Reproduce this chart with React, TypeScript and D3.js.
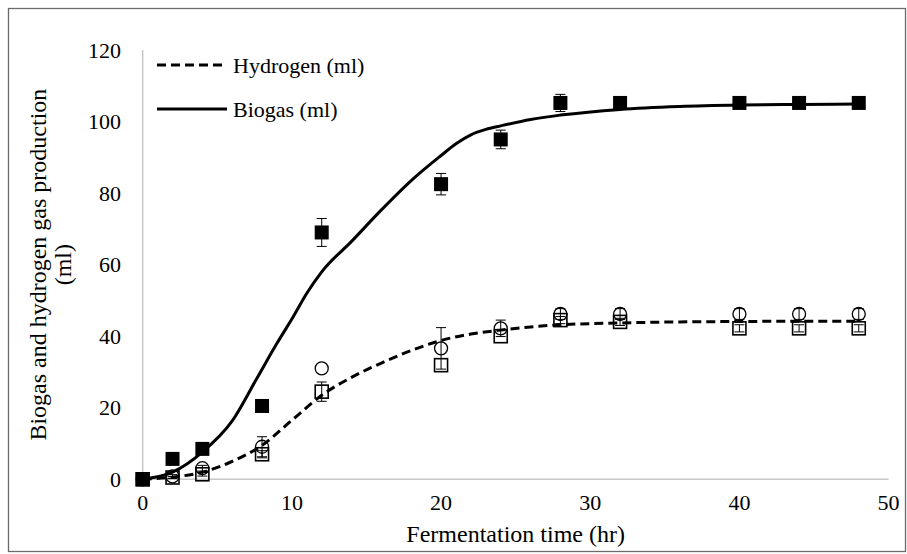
import React from 'react';
import * as d3 from 'd3';

// Observation times (hr)
const timeH = [0, 2, 4, 8, 12, 20, 24, 28, 32, 40, 44, 48];
// Biogas (filled squares)
const biogasObs = [0, 5.7, 8.5, 20.5, 69, 82.5, 95, 105.2, 105.2, 105.2, 105.2, 105.2];
const biogasErr = [0, 0.5, 0.5, 0.8, 3.9, 3.0, 2.6, 2.4, 0.8, 0.6, 0.6, 0.6];
// Hydrogen replicate (open squares)
const hydrogenSq = [0, 0.5, 1.4, 7.0, 24.5, 31.9, 40, 44.5, 44, 42.2, 42.2, 42.2];
const hydrogenSqErr = [0, 0.3, 0.5, 1, 2.7, 0, 0, 1, 1, 1, 1, 1];
// Hydrogen replicate (open circles)
const hydrogenCirc = [0, 0.8, 3.1, 9.1, 31, 36.6, 42.2, 46.2, 46.2, 46.2, 46.2, 46.2];
const hydrogenCircErr = [0, 0.5, 0.8, 2.8, 0, 5.8, 2.3, 1.5, 1.5, 1.5, 1.5, 1.5];

// Fitted curves
const biogasFitT = [0, 2, 4, 6, 7.6, 9, 10.1, 11, 12, 14, 16, 18, 20, 21, 22, 23, 24, 26, 28, 32, 36, 40, 44, 48];
const biogasFitY = [0, 2, 7.6, 16.3, 27.8, 38, 45.5, 52, 58, 66.5, 75.3, 83.5, 90.5, 93.8, 96.3, 97.8, 98.8, 100.6, 101.8, 103.4, 104.2, 104.6, 104.8, 104.9];
const hydrogenFitT = [0, 2, 4, 6, 8, 10, 12, 14, 16, 18, 20, 22, 24, 26, 28, 32, 36, 40, 44, 48];
const hydrogenFitY = [0, 0.6, 2, 5, 9.5, 16.5, 23.5, 28.5, 32.5, 36, 38.8, 40.6, 41.7, 42.6, 43.2, 43.7, 44, 44.1, 44.2, 44.2];

const xTicks = [0, 10, 20, 30, 40, 50];
const yTicks = [0, 20, 40, 60, 80, 100, 120];
const legendLabels = ['Hydrogen (ml)', 'Biogas (ml)'];

const W = 907;
const H = 554;

function T(props: any) {
  const { children, size, ...rest } = props;
  return (
    <text {...rest} fontSize={size} fontFamily="Times New Roman" fill="#000" style={{ fontFamily: 'Liberation Serif' }}>
      {children}
    </text>
  );
}

export default function App() {
  const x = d3.scaleLinear().domain([0, 50]).range([142.7, 888.6]);
  const y = d3.scaleLinear().domain([0, 120]).range([479.3, 50]);

  const line = d3
    .line<[number, number]>()
    .x((d) => x(d[0]))
    .y((d) => y(d[1]))
    .curve(d3.curveMonotoneX);

  const biogasFit = biogasFitT.map((t, i) => [t, biogasFitY[i]] as [number, number]);
  const hydrogenFit = hydrogenFitT.map((t, i) => [t, hydrogenFitY[i]] as [number, number]);

  const errBar = (t: number, v: number, e: number, key: string) => {
    if (!e) return null;
    const cx = x(t);
    const y1 = y(v + e);
    const y2 = y(v - e);
    return (
      <g key={key} stroke="#000" strokeWidth={1}>
        <line x1={cx} x2={cx} y1={y1} y2={y2} />
        <line x1={cx - 5} x2={cx + 5} y1={y1} y2={y1} />
        <line x1={cx - 5} x2={cx + 5} y1={y2} y2={y2} />
      </g>
    );
  };

  const sq = 13;
  const r = 6.5;

  return (
    <svg width={W} height={H} style={{ position: 'absolute', left: 0, top: 0 }}>
      <rect x={0} y={0} width={W} height={H} fill="#fff" />
      <rect x={8.5} y={8.5} width={897} height={543} fill="none" stroke="#6b6b6b" strokeWidth={1.3} />

      {/* axes */}
      <line x1={x(0)} x2={x(50)} y1={y(0)} y2={y(0)} stroke="#c8c8c8" strokeWidth={1.5} />
      <line x1={x(0)} x2={x(0)} y1={y(0)} y2={y(120)} stroke="#c8c8c8" strokeWidth={1.5} />

      {/* tick labels */}
      {yTicks.map((v) => (
        <T key={'y' + v} x={121} y={y(v)} dy="0.35em" textAnchor="end" size={22}>
          {v}
        </T>
      ))}
      {xTicks.map((v) => (
        <T key={'x' + v} x={x(v)} y={510} textAnchor="middle" size={22}>
          {v}
        </T>
      ))}

      {/* axis titles */}
      <T x={x(25)} y={542} textAnchor="middle" size={24}>
        Fermentation time (hr)
      </T>
      <g transform={`translate(46, ${y(60)}) rotate(-90)`}>
        <T x={0} y={0} textAnchor="middle" size={24}>
          Biogas and hydrogen gas production
        </T>
        <T x={0} y={25} textAnchor="middle" size={24}>
          (ml)
        </T>
      </g>

      {/* error bars */}
      {timeH.map((t, i) => errBar(t, biogasObs[i], biogasErr[i], 'eb' + i))}
      {timeH.map((t, i) => errBar(t, hydrogenSq[i], hydrogenSqErr[i], 'es' + i))}
      {timeH.map((t, i) => errBar(t, hydrogenCirc[i], hydrogenCircErr[i], 'ec' + i))}

      {/* markers */}
      {timeH.map((t, i) => (
        <circle key={'c' + i} cx={x(t)} cy={y(hydrogenCirc[i])} r={r} fill="none" stroke="#000" strokeWidth={1.3} />
      ))}
      {timeH.map((t, i) => (
        <rect
          key={'s' + i}
          x={x(t) - sq / 2}
          y={y(hydrogenSq[i]) - sq / 2}
          width={sq}
          height={sq}
          fill="none"
          stroke="#000"
          strokeWidth={1.6}
        />
      ))}

      {/* fitted curves */}
      <path d={line(hydrogenFit) || ''} fill="none" stroke="#000" strokeWidth={3} strokeDasharray="9,5" />
      <path d={line(biogasFit) || ''} fill="none" stroke="#000" strokeWidth={3} />

      {timeH.map((t, i) => (
        <rect key={'b' + i} x={x(t) - 7} y={y(biogasObs[i]) - 7} width={14} height={14} fill="#000" />
      ))}

      {/* legend */}
      <line x1={157} x2={227} y1={65} y2={65} stroke="#000" strokeWidth={3} strokeDasharray="9,5" />
      <T x={233} y={65} dy="0.35em" size={22}>
        {legendLabels[0]}
      </T>
      <line x1={157} x2={227} y1={109} y2={109} stroke="#000" strokeWidth={3} />
      <T x={233} y={109} dy="0.35em" size={22}>
        {legendLabels[1]}
      </T>
    </svg>
  );
}
